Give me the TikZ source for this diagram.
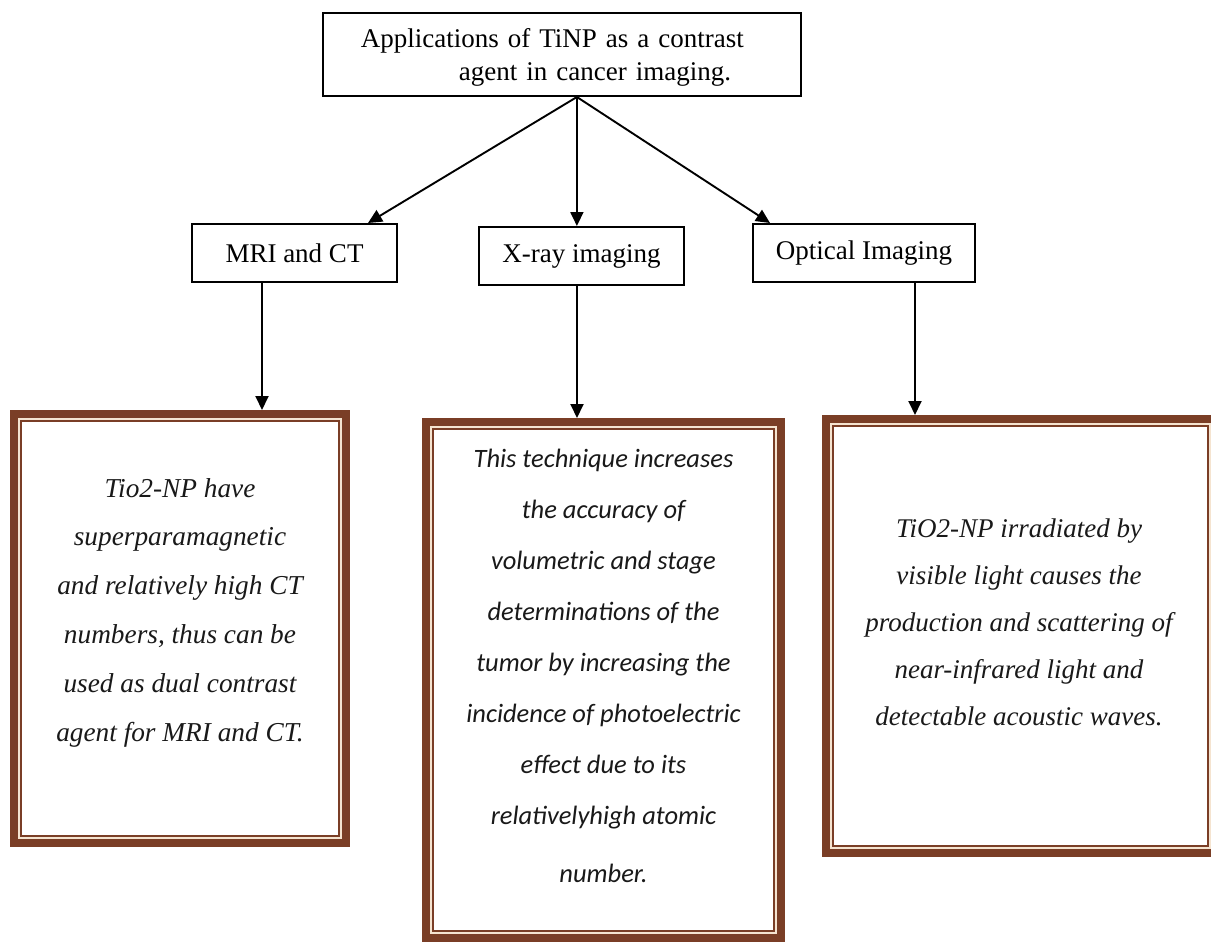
\documentclass[tikz,border=0pt]{standalone}
\usepackage{fontspec}
\setmainfont{Liberation Serif}
\newfontfamily\calibfont{Carlito}
\usetikzlibrary{arrows.meta,calc}
\definecolor{framebrown}{RGB}{122,62,38}
\definecolor{framecream}{RGB}{245,228,208}
\definecolor{inkgray}{RGB}{25,25,25}
\newcommand\framelines[1]{%
  \draw[framecream, line width=2pt] ([shift={(9pt,-9pt)}]#1.north west) rectangle ([shift={(-9pt,9pt)}]#1.south east);
  \draw[framebrown, line width=2pt] ([shift={(11pt,-11pt)}]#1.north west) rectangle ([shift={(-11pt,11pt)}]#1.south east);}
\begin{document}
\begin{tikzpicture}[x=1pt,y=-1pt,
  box/.style={draw=black, line width=1.8pt, anchor=north west, inner sep=0pt, font=\fontsize{27}{33}\selectfont},
  frame/.style={draw=framebrown, line width=8pt, fill=white, anchor=north west, inner sep=0pt},
  arr/.style={line width=1.9pt, -{Triangle[length=14pt,width=13pt]}},
  body/.style={anchor=base, align=center, inner sep=0pt, text=inkgray}
]
\useasboundingbox (0,0) rectangle (1211,942);
\fill[white] (0,0) rectangle (1211,942);

% title box
\node[box, minimum width=476.2pt, minimum height=83.2pt, text width=402pt, align=left, inner xsep=38pt] (top) at (322,12)
  {\rule{0pt}{25pt}Applications of TiNP as a contrast\\\hspace*{98pt}agent in cancer imaging.};

% technique boxes
\node[box, minimum width=205.2pt, minimum height=58.2pt] (mri) at (191,223) {MRI and CT};
\node[box, minimum width=205.2pt, minimum height=58.2pt] (xray) at (478,226) {X-ray imaging};
\node[box, minimum width=222.2pt, minimum height=58.2pt] (opt) at (752,223) {Optical Imaging};

% framed description boxes
\node[frame, minimum width=332pt, minimum height=429pt] (f1) at (10,410) {};
\node[frame, minimum width=355pt, minimum height=516pt] (f2) at (422,418) {};
\node[frame, minimum width=389pt, minimum height=434pt] (f3) at (822,415) {};
\framelines{f1}
\framelines{f2}
\framelines{f3}

\node[body, font=\fontsize{27.3}{48.8}\selectfont\itshape] (t1) at (180,741)
  {Tio2-NP have\\superparamagnetic\\and relatively high CT\\numbers, thus can be\\used as dual contrast\\agent for MRI and CT.};
\node[body, font=\fontsize{26.5}{51.1}\calibfont\itshape] (t2) at (603.5,882)
  {This technique increases\\the accuracy of\\volumetric and stage\\determinations of the\\tumor by increasing the\\incidence of photoelectric\\effect due to its\\relativelyhigh atomic\\[6pt]number.};
\node[body, font=\fontsize{27}{47}\selectfont\itshape] (t3) at (1019,725)
  {TiO2-NP irradiated by\\visible light causes the\\production and scattering of\\near-infrared light and\\detectable acoustic waves.};

% connectors
\coordinate (apex) at ([xshift=15pt]top.south);
\draw[arr] (apex) -- ([xshift=73.5pt]mri.north);
\draw[arr] (apex) -- (apex |- xray.north);
\draw[arr] (apex) -- ([xshift=-94pt]opt.north);

\coordinate (d1) at ([xshift=-32.5pt]mri.south);
\coordinate (d2) at ([xshift=-4.5pt]xray.south);
\coordinate (d3) at ([xshift=51pt]opt.south);
\draw[arr] (d1) -- (d1 |- f1.north);
\draw[arr] (d2) -- (d2 |- f2.north);
\draw[arr] (d3) -- (d3 |- f3.north);
\end{tikzpicture}
\end{document}
